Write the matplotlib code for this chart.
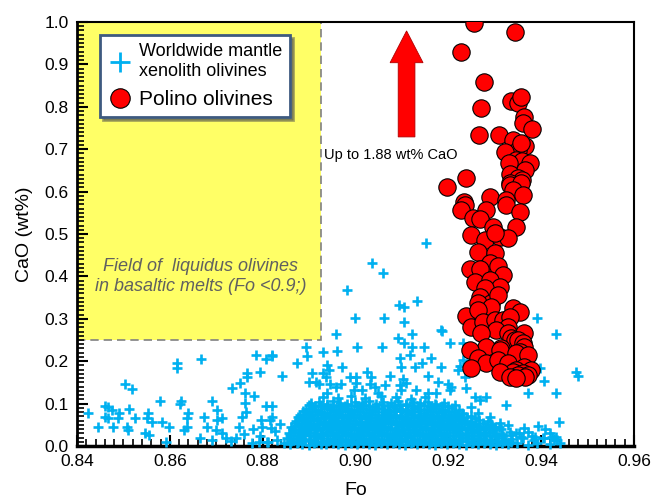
import matplotlib.pyplot as plt
import matplotlib.patches as mpatches
from matplotlib.lines import Line2D
from matplotlib.ticker import MultipleLocator, FormatStrFormatter

plt.rcParams['font.family'] = ['Liberation Sans', 'DejaVu Sans']

# ======================
# 1. Data (Fo, CaO wt%)
# ======================
# Polino olivines
polino_points = [
    (0.9255, 0.998), (0.9343, 0.976), (0.9227, 0.929), (0.9276, 0.858),
    (0.9270, 0.797), (0.9266, 0.733), (0.9309, 0.733), (0.9197, 0.611),
    (0.9238, 0.632), (0.9336, 0.814), (0.9349, 0.809), (0.9356, 0.823),
    (0.9362, 0.776), (0.9360, 0.762), (0.9381, 0.748), (0.9339, 0.722),
    (0.9366, 0.708), (0.9349, 0.698), (0.9321, 0.693), (0.9356, 0.715),
    (0.9345, 0.675), (0.9358, 0.672), (0.9375, 0.667), (0.9330, 0.667),
    (0.9366, 0.651), (0.9332, 0.642), (0.9349, 0.632), (0.9358, 0.627),
    (0.9332, 0.620), (0.9332, 0.616), (0.9356, 0.620), (0.9339, 0.604),
    (0.9360, 0.592), (0.9289, 0.587), (0.9324, 0.580), (0.9234, 0.575),
    (0.9236, 0.568), (0.9227, 0.557), (0.9324, 0.568), (0.9354, 0.552),
    (0.9281, 0.557), (0.9253, 0.538), (0.9268, 0.535), (0.9296, 0.517),
    (0.9345, 0.517), (0.9249, 0.498), (0.9279, 0.486), (0.9311, 0.493),
    (0.9328, 0.491), (0.9300, 0.502), (0.9264, 0.458), (0.9300, 0.455),
    (0.9289, 0.432), (0.9246, 0.417), (0.9268, 0.417), (0.9306, 0.425),
    (0.9317, 0.403), (0.9257, 0.387), (0.9289, 0.392), (0.9311, 0.375),
    (0.9279, 0.373), (0.9268, 0.351), (0.9291, 0.337), (0.9306, 0.356),
    (0.9264, 0.337), (0.9291, 0.328), (0.9339, 0.325), (0.9354, 0.316),
    (0.9238, 0.307), (0.9264, 0.321), (0.9249, 0.281), (0.9274, 0.292),
    (0.9300, 0.297), (0.9317, 0.297), (0.9332, 0.304), (0.9328, 0.281),
    (0.9302, 0.274), (0.9270, 0.267), (0.9328, 0.267), (0.9364, 0.267),
    (0.9334, 0.255), (0.9343, 0.250), (0.9349, 0.250), (0.9360, 0.243),
    (0.9313, 0.231), (0.9281, 0.233), (0.9364, 0.233), (0.9246, 0.226),
    (0.9311, 0.226), (0.9354, 0.222), (0.9264, 0.208), (0.9345, 0.219),
    (0.9371, 0.215), (0.9281, 0.196), (0.9306, 0.203), (0.9328, 0.196),
    (0.9249, 0.184), (0.9364, 0.186), (0.9377, 0.179), (0.9345, 0.179),
    (0.9339, 0.175), (0.9311, 0.175), (0.9360, 0.172), (0.9349, 0.167),
    (0.9371, 0.167), (0.9332, 0.163), (0.9366, 0.163), (0.9345, 0.160),
]

# Worldwide mantle xenolith olivines - scattered points
xeno_sparse = [
    (0.8424, 0.078), (0.8445, 0.045), (0.8460, 0.094), (0.8466, 0.092),
    (0.8475, 0.085), (0.8460, 0.068), (0.8466, 0.066), (0.8477, 0.045),
    (0.8490, 0.078), (0.8488, 0.066), (0.8503, 0.146), (0.8518, 0.134),
    (0.8511, 0.087), (0.8507, 0.045), (0.8509, 0.038), (0.8524, 0.066),
    (0.8546, 0.031), (0.8556, 0.026), (0.8552, 0.078), (0.8550, 0.066),
    (0.8561, 0.057), (0.8578, 0.106), (0.8584, 0.057), (0.8599, 0.045),
    (0.8591, 0.009), (0.8616, 0.196), (0.8616, 0.184), (0.8621, 0.099),
    (0.8625, 0.106), (0.8636, 0.066), (0.8636, 0.045), (0.8631, 0.038),
    (0.8640, 0.078), (0.8664, 0.019), (0.8668, 0.205), (0.8674, 0.068),
    (0.8679, 0.045), (0.8691, 0.106), (0.8702, 0.085), (0.8702, 0.061),
    (0.8700, 0.038), (0.8713, 0.066), (0.8721, 0.019), (0.8734, 0.137),
    (0.8751, 0.149), (0.8762, 0.125), (0.8781, 0.118), (0.8766, 0.172),
    (0.8766, 0.163), (0.8794, 0.175), (0.8786, 0.215), (0.8807, 0.205),
    (0.8820, 0.215), (0.8762, 0.101), (0.8764, 0.080), (0.8756, 0.068),
    (0.8749, 0.045), (0.8743, 0.019), (0.8796, 0.061), (0.8799, 0.045),
    (0.8807, 0.094), (0.8820, 0.094), (0.8820, 0.068), (0.8818, 0.042),
    (0.8792, 0.009), (0.8809, 0.009), (0.8893, 0.233), (0.8895, 0.212),
    (0.8874, 0.196), (0.8931, 0.222), (0.8841, 0.165), (0.8906, 0.172),
    (0.8914, 0.151), (0.8899, 0.151), (0.8936, 0.163), (0.9152, 0.479),
    (0.9036, 0.432), (0.9060, 0.408), (0.8981, 0.368), (0.9094, 0.333),
    (0.9105, 0.328), (0.9133, 0.342), (0.8998, 0.302), (0.9062, 0.302),
    (0.9105, 0.292), (0.9184, 0.274), (0.8957, 0.264), (0.9122, 0.264),
    (0.9092, 0.255), (0.9105, 0.243), (0.9204, 0.243), (0.9231, 0.243),
    (0.8961, 0.224), (0.9004, 0.233), (0.9056, 0.233), (0.9122, 0.233),
    (0.9148, 0.233), (0.8820, 0.212), (0.9096, 0.208), (0.9118, 0.215),
    (0.9163, 0.208), (0.9144, 0.196), (0.8938, 0.191), (0.8942, 0.179),
    (0.8970, 0.186), (0.9024, 0.175), (0.9099, 0.186), (0.9129, 0.186),
    (0.9184, 0.186), (0.9225, 0.189), (0.9157, 0.165), (0.9075, 0.165),
    (0.9002, 0.163), (0.8989, 0.163), (0.8931, 0.172), (0.9103, 0.158),
    (0.9109, 0.149), (0.8921, 0.146), (0.8944, 0.146), (0.8968, 0.146),
    (0.9000, 0.149), (0.9034, 0.163), (0.9032, 0.146), (0.9064, 0.144),
    (0.9178, 0.151), (0.9199, 0.146), (0.9204, 0.132), (0.9157, 0.125),
    (0.9174, 0.125), (0.9131, 0.132), (0.9096, 0.144), (0.9099, 0.132),
    (0.9043, 0.139), (0.8938, 0.125), (0.8957, 0.139), (0.8996, 0.132),
    (0.9013, 0.132), (0.9049, 0.125), (0.9390, 0.302), (0.9433, 0.264),
    (0.9397, 0.184), (0.9407, 0.153), (0.9371, 0.125), (0.9431, 0.125),
    (0.9476, 0.175), (0.9480, 0.165), (0.9324, 0.097), (0.9439, 0.057),
    (0.9394, 0.047), (0.9409, 0.040), (0.9420, 0.031), (0.9431, 0.021),
    (0.9371, 0.033), (0.9381, 0.024), (0.9186, 0.271), (0.9231, 0.203),
    (0.9221, 0.179), (0.9236, 0.163), (0.9364, 0.042), (0.9345, 0.031),
    (0.9328, 0.050), (0.9356, 0.021), (0.9386, 0.021), (0.9407, 0.019),
    (0.9424, 0.021), (0.9435, 0.014), (0.9206, 0.139), (0.9238, 0.137),
    (0.9257, 0.116), (0.9281, 0.116), (0.9268, 0.108), (0.9249, 0.092),
    (0.9264, 0.078), (0.9289, 0.068), (0.9311, 0.054), (0.9300, 0.045),
    (0.8778, 0.006), (0.8795, 0.024), (0.8812, 0.010), (0.8826, 0.035),
    (0.8838, 0.052), (0.8830, 0.015), (0.8815, 0.062), (0.8780, 0.040),
    (0.8760, 0.028), (0.8732, 0.012), (0.8712, 0.030), (0.8690, 0.015),
]

# Worldwide mantle xenolith olivines - dense cluster
xeno_core = [
    (0.8846, 0.006), (0.8859, 0.004), (0.8873, 0.007), (0.8885, 0.005), (0.8899, 0.003),
    (0.8911, 0.007), (0.8925, 0.005), (0.8937, 0.004), (0.8951, 0.008), (0.8963, 0.005),
    (0.8977, 0.003), (0.8990, 0.006), (0.9003, 0.004), (0.9016, 0.007), (0.9029, 0.005),
    (0.9042, 0.003), (0.9055, 0.006), (0.9068, 0.004), (0.9081, 0.007), (0.9094, 0.005),
    (0.9107, 0.003), (0.9120, 0.006), (0.9133, 0.004), (0.9146, 0.007), (0.9159, 0.005),
    (0.9172, 0.003), (0.9185, 0.006), (0.9198, 0.004), (0.9211, 0.007), (0.9224, 0.005),
    (0.9237, 0.003), (0.9250, 0.006), (0.9263, 0.004), (0.9276, 0.007), (0.9289, 0.005),
    (0.9302, 0.003), (0.9315, 0.006), (0.9328, 0.004), (0.9348, 0.006), (0.9371, 0.003),
    (0.9392, 0.007), (0.9418, 0.004), (0.9441, 0.006),
    (0.8852, 0.019), (0.8866, 0.016), (0.8879, 0.020), (0.8892, 0.017), (0.8905, 0.015),
    (0.8918, 0.020), (0.8931, 0.018), (0.8944, 0.016), (0.8957, 0.021), (0.8970, 0.017),
    (0.8983, 0.015), (0.8996, 0.019), (0.9009, 0.018), (0.9022, 0.016), (0.9035, 0.020),
    (0.9048, 0.017), (0.9061, 0.015), (0.9074, 0.019), (0.9087, 0.018), (0.9100, 0.016),
    (0.9113, 0.021), (0.9126, 0.017), (0.9139, 0.015), (0.9152, 0.019), (0.9165, 0.018),
    (0.9178, 0.016), (0.9191, 0.020), (0.9204, 0.017), (0.9217, 0.015), (0.9230, 0.019),
    (0.9243, 0.018), (0.9256, 0.016), (0.9269, 0.020), (0.9282, 0.017), (0.9295, 0.015),
    (0.9308, 0.019), (0.9321, 0.017), (0.9338, 0.016), (0.9360, 0.019), (0.9384, 0.015),
    (0.9405, 0.018), (0.9428, 0.016),
    (0.8856, 0.031), (0.8869, 0.034), (0.8883, 0.030), (0.8896, 0.033), (0.8910, 0.031),
    (0.8923, 0.029), (0.8936, 0.034), (0.8949, 0.032), (0.8962, 0.030), (0.8975, 0.033),
    (0.8988, 0.031), (0.9001, 0.029), (0.9014, 0.034), (0.9027, 0.032), (0.9040, 0.030),
    (0.9053, 0.033), (0.9066, 0.031), (0.9079, 0.029), (0.9092, 0.034), (0.9105, 0.032),
    (0.9118, 0.030), (0.9131, 0.033), (0.9144, 0.031), (0.9157, 0.029), (0.9170, 0.034),
    (0.9183, 0.032), (0.9196, 0.030), (0.9209, 0.033), (0.9222, 0.031), (0.9235, 0.029),
    (0.9248, 0.034), (0.9261, 0.032), (0.9274, 0.030), (0.9287, 0.033), (0.9300, 0.031),
    (0.9315, 0.029), (0.9332, 0.033), (0.9352, 0.030),
    (0.8862, 0.045), (0.8876, 0.048), (0.8889, 0.044), (0.8902, 0.047), (0.8915, 0.045),
    (0.8928, 0.043), (0.8941, 0.048), (0.8954, 0.046), (0.8967, 0.044), (0.8980, 0.047),
    (0.8993, 0.045), (0.9006, 0.043), (0.9019, 0.048), (0.9032, 0.046), (0.9045, 0.044),
    (0.9058, 0.047), (0.9071, 0.045), (0.9084, 0.043), (0.9097, 0.048), (0.9110, 0.046),
    (0.9123, 0.044), (0.9136, 0.047), (0.9149, 0.045), (0.9162, 0.043), (0.9175, 0.048),
    (0.9188, 0.046), (0.9201, 0.044), (0.9214, 0.047), (0.9227, 0.045), (0.9240, 0.043),
    (0.9253, 0.048), (0.9266, 0.046), (0.9279, 0.044), (0.9294, 0.047), (0.9310, 0.044),
    (0.8872, 0.059), (0.8885, 0.062), (0.8898, 0.058), (0.8911, 0.061), (0.8924, 0.059),
    (0.8937, 0.057), (0.8950, 0.062), (0.8963, 0.060), (0.8976, 0.058), (0.8989, 0.061),
    (0.9002, 0.059), (0.9015, 0.057), (0.9028, 0.062), (0.9041, 0.060), (0.9054, 0.058),
    (0.9067, 0.061), (0.9080, 0.059), (0.9093, 0.057), (0.9106, 0.062), (0.9119, 0.060),
    (0.9132, 0.058), (0.9145, 0.061), (0.9158, 0.059), (0.9171, 0.057), (0.9184, 0.062),
    (0.9197, 0.060), (0.9210, 0.058), (0.9223, 0.061), (0.9236, 0.059), (0.9250, 0.057),
    (0.9266, 0.061), (0.9285, 0.058),
    (0.8880, 0.073), (0.8893, 0.076), (0.8906, 0.072), (0.8919, 0.075), (0.8932, 0.073),
    (0.8945, 0.071), (0.8958, 0.076), (0.8971, 0.074), (0.8984, 0.072), (0.8997, 0.075),
    (0.9010, 0.073), (0.9023, 0.071), (0.9036, 0.076), (0.9049, 0.074), (0.9062, 0.072),
    (0.9075, 0.075), (0.9088, 0.073), (0.9101, 0.071), (0.9114, 0.076), (0.9127, 0.074),
    (0.9140, 0.072), (0.9153, 0.075), (0.9166, 0.073), (0.9179, 0.071), (0.9192, 0.076),
    (0.9205, 0.074), (0.9218, 0.072), (0.9232, 0.075), (0.9248, 0.071),
    (0.8893, 0.087), (0.8906, 0.090), (0.8919, 0.086), (0.8932, 0.089), (0.8945, 0.087),
    (0.8958, 0.085), (0.8971, 0.090), (0.8984, 0.088), (0.8997, 0.086), (0.9010, 0.089),
    (0.9023, 0.087), (0.9036, 0.085), (0.9049, 0.090), (0.9062, 0.088), (0.9075, 0.086),
    (0.9088, 0.089), (0.9101, 0.087), (0.9114, 0.085), (0.9127, 0.090), (0.9140, 0.088),
    (0.9153, 0.086), (0.9166, 0.089), (0.9179, 0.087), (0.9192, 0.085), (0.9207, 0.089),
    (0.9224, 0.086),
    (0.8905, 0.101), (0.8922, 0.104), (0.8938, 0.100), (0.8951, 0.105), (0.8967, 0.102),
    (0.8982, 0.099), (0.8999, 0.104), (0.9013, 0.101), (0.9030, 0.106), (0.9044, 0.100),
    (0.9060, 0.103), (0.9077, 0.101), (0.9091, 0.105), (0.9108, 0.099), (0.9124, 0.103),
    (0.9139, 0.101), (0.9156, 0.104), (0.9172, 0.100), (0.9190, 0.102),
    (0.8930, 0.116), (0.8962, 0.114), (0.8990, 0.118), (0.9021, 0.113), (0.9055, 0.117),
    (0.9088, 0.115), (0.9120, 0.112), (0.9150, 0.116),
]

# points between the rows of the dense cluster
xeno_core_fill = [
    (0.8862, 0.012), (0.8876, 0.010), (0.8889, 0.013), (0.8902, 0.011), (0.8915, 0.009),
    (0.8928, 0.012), (0.8941, 0.011), (0.8954, 0.013), (0.8967, 0.010), (0.8980, 0.012),
    (0.8993, 0.011), (0.9006, 0.009), (0.9019, 0.013), (0.9032, 0.011), (0.9045, 0.010),
    (0.9058, 0.012), (0.9071, 0.013), (0.9084, 0.010), (0.9097, 0.011), (0.9110, 0.012),
    (0.9123, 0.009), (0.9136, 0.013), (0.9149, 0.011), (0.9162, 0.010), (0.9175, 0.012),
    (0.9188, 0.011), (0.9201, 0.013), (0.9214, 0.010), (0.9227, 0.012), (0.9240, 0.011),
    (0.9253, 0.009), (0.9266, 0.013), (0.9279, 0.011), (0.9292, 0.010), (0.9305, 0.012),
    (0.9320, 0.011), (0.9336, 0.009),
    (0.8859, 0.026), (0.8873, 0.024), (0.8886, 0.027), (0.8899, 0.025), (0.8912, 0.023),
    (0.8925, 0.026), (0.8938, 0.025), (0.8951, 0.027), (0.8964, 0.024), (0.8977, 0.026),
    (0.8990, 0.025), (0.9003, 0.023), (0.9016, 0.027), (0.9029, 0.025), (0.9042, 0.024),
    (0.9055, 0.026), (0.9068, 0.027), (0.9081, 0.024), (0.9094, 0.025), (0.9107, 0.026),
    (0.9120, 0.023), (0.9133, 0.027), (0.9146, 0.025), (0.9159, 0.024), (0.9172, 0.026),
    (0.9185, 0.025), (0.9198, 0.027), (0.9211, 0.024), (0.9224, 0.026), (0.9237, 0.025),
    (0.9250, 0.023), (0.9263, 0.027), (0.9276, 0.025), (0.9289, 0.024), (0.9302, 0.026),
    (0.9318, 0.024), (0.9334, 0.026),
    (0.8866, 0.040), (0.8879, 0.038), (0.8892, 0.041), (0.8905, 0.039), (0.8918, 0.037),
    (0.8931, 0.040), (0.8944, 0.039), (0.8957, 0.041), (0.8970, 0.038), (0.8983, 0.040),
    (0.8996, 0.039), (0.9009, 0.037), (0.9022, 0.041), (0.9035, 0.039), (0.9048, 0.038),
    (0.9061, 0.040), (0.9074, 0.041), (0.9087, 0.038), (0.9100, 0.039), (0.9113, 0.040),
    (0.9126, 0.037), (0.9139, 0.041), (0.9152, 0.039), (0.9165, 0.038), (0.9178, 0.040),
    (0.9191, 0.039), (0.9204, 0.041), (0.9217, 0.038), (0.9230, 0.040), (0.9243, 0.039),
    (0.9256, 0.037), (0.9269, 0.041), (0.9282, 0.039), (0.9297, 0.038), (0.9314, 0.040),
    (0.8869, 0.054), (0.8882, 0.052), (0.8895, 0.055), (0.8908, 0.053), (0.8921, 0.051),
    (0.8934, 0.054), (0.8947, 0.053), (0.8960, 0.055), (0.8973, 0.052), (0.8986, 0.054),
    (0.8999, 0.053), (0.9012, 0.051), (0.9025, 0.055), (0.9038, 0.053), (0.9051, 0.052),
    (0.9064, 0.054), (0.9077, 0.055), (0.9090, 0.052), (0.9103, 0.053), (0.9116, 0.054),
    (0.9129, 0.051), (0.9142, 0.055), (0.9155, 0.053), (0.9168, 0.052), (0.9181, 0.054),
    (0.9194, 0.053), (0.9207, 0.055), (0.9220, 0.052), (0.9233, 0.054), (0.9246, 0.053),
    (0.9259, 0.051), (0.9274, 0.054), (0.9292, 0.052),
    (0.8877, 0.068), (0.8890, 0.066), (0.8903, 0.069), (0.8916, 0.067), (0.8929, 0.065),
    (0.8942, 0.068), (0.8955, 0.067), (0.8968, 0.069), (0.8981, 0.066), (0.8994, 0.068),
    (0.9007, 0.067), (0.9020, 0.065), (0.9033, 0.069), (0.9046, 0.067), (0.9059, 0.066),
    (0.9072, 0.068), (0.9085, 0.069), (0.9098, 0.066), (0.9111, 0.067), (0.9124, 0.068),
    (0.9137, 0.065), (0.9150, 0.069), (0.9163, 0.067), (0.9176, 0.066), (0.9189, 0.068),
    (0.9202, 0.067), (0.9215, 0.069), (0.9228, 0.066), (0.9241, 0.068), (0.9258, 0.066),
    (0.8887, 0.082), (0.8900, 0.080), (0.8913, 0.083), (0.8926, 0.081), (0.8939, 0.079),
    (0.8952, 0.082), (0.8965, 0.081), (0.8978, 0.083), (0.8991, 0.080), (0.9004, 0.082),
    (0.9017, 0.081), (0.9030, 0.079), (0.9043, 0.083), (0.9056, 0.081), (0.9069, 0.080),
    (0.9082, 0.082), (0.9095, 0.083), (0.9108, 0.080), (0.9121, 0.081), (0.9134, 0.082),
    (0.9147, 0.079), (0.9160, 0.083), (0.9173, 0.081), (0.9186, 0.080), (0.9199, 0.082),
    (0.9213, 0.081), (0.9230, 0.079),
    (0.8900, 0.096), (0.8913, 0.094), (0.8926, 0.097), (0.8939, 0.095), (0.8952, 0.093),
    (0.8965, 0.096), (0.8978, 0.095), (0.8991, 0.097), (0.9004, 0.094), (0.9017, 0.096),
    (0.9030, 0.095), (0.9043, 0.093), (0.9056, 0.097), (0.9069, 0.095), (0.9082, 0.094),
    (0.9095, 0.096), (0.9108, 0.097), (0.9121, 0.094), (0.9134, 0.095), (0.9147, 0.096),
    (0.9160, 0.093), (0.9173, 0.097), (0.9186, 0.095), (0.9200, 0.094), (0.9215, 0.096),
]

x_ticks = [0.84, 0.86, 0.88, 0.90, 0.92, 0.94, 0.96]
y_ticks = [0.0, 0.1, 0.2, 0.3, 0.4, 0.5, 0.6, 0.7, 0.8, 0.9, 1.0]

# liquidus olivine field (Fo < ~0.89, CaO > 0.25)
field_fo = (0.84, 0.8925)
field_cao = (0.25, 1.0)

# arrow: values go up to 1.88 wt% CaO
arrow_fo = 0.911
arrow_cao = (0.729, 0.979)

XENO_BLUE = "#00b0f0"

# ======================
# 2. Figure
# ======================
fig = plt.figure(figsize=(6.51, 5.0), dpi=100)
ax = fig.add_axes([0.1183, 0.108, 0.8556, 0.848])

field = mpatches.Rectangle((field_fo[0], field_cao[0]),
                           field_fo[1] - field_fo[0], field_cao[1] - field_cao[0],
                           facecolor="#ffff66", edgecolor="#808080",
                           linestyle=(0, (5, 3)), linewidth=1.2, zorder=1)
ax.add_patch(field)

ax.text(sum(field_fo) / 2 + 0.0004, 0.400,
        "Field of  liquidus olivines\nin basaltic melts (Fo <0.9;)",
        ha="center", va="center", style="italic", color="#606060",
        fontsize=13, linespacing=1.25, zorder=2)

xeno_all = xeno_core + xeno_core_fill + xeno_sparse
xf, xc = zip(*xeno_all)
ax.plot(xf, xc, "+", color=XENO_BLUE, ms=7.5, mew=1.9, ls="none",
        zorder=3, clip_on=False)

pf, pc = zip(*polino_points)
ax.plot(pf, pc, "o", mfc="#ff0000", mec="black", mew=0.8, ms=12.5,
        ls="none", zorder=4)

arrow = mpatches.FancyArrow(arrow_fo, arrow_cao[0], 0, arrow_cao[1] - arrow_cao[0],
                            width=0.0036, head_width=0.0071, head_length=0.075,
                            length_includes_head=True, facecolor="#ff0000",
                            edgecolor="#b00000", linewidth=0.6, zorder=5)
ax.add_patch(arrow)
ax.text(0.8932, 0.686, "Up to 1.88 wt% CaO", fontsize=10.5,
        ha="left", va="center", zorder=5)

# ======================
# 3. Axes styling
# ======================
ax.set_xlim(0.84, 0.96)
ax.set_ylim(0.0, 1.0)
ax.set_xticks(x_ticks)
ax.set_yticks(y_ticks)
ax.xaxis.set_major_formatter(FormatStrFormatter("%.2f"))
ax.yaxis.set_major_formatter(FormatStrFormatter("%.1f"))
ax.xaxis.set_minor_locator(MultipleLocator(0.002))
ax.yaxis.set_minor_locator(MultipleLocator(0.01))
ax.tick_params(which="both", direction="in", top=False, right=False,
               labelsize=12.5, colors="black")
ax.tick_params(which="major", length=8, width=1.5, pad=6)
ax.tick_params(which="minor", length=5, width=1.2)

ax.spines["left"].set_linewidth(2.0)
ax.spines["bottom"].set_linewidth(2.5)
ax.spines["top"].set_linewidth(1.5)
ax.spines["right"].set_linewidth(1.5)

ax.set_xlabel("Fo", fontsize=14, labelpad=9)
ax.set_ylabel("CaO (wt%)", fontsize=14, labelpad=8)

# legend
h_xeno = Line2D([], [], marker="+", color=XENO_BLUE, ms=15, mew=2.0, ls="none",
                label="Worldwide mantle\nxenolith olivines")
h_pol = Line2D([], [], marker="o", mfc="#ff0000", mec="black", mew=0.8, ms=14,
               ls="none", label="Polino olivines")
leg = ax.legend(handles=[h_xeno, h_pol], loc="upper left",
                bbox_to_anchor=(0.041, 0.969), fancybox=False, shadow=True,
                framealpha=1, edgecolor="#3d5a80", fontsize=13,
                borderpad=0.45, handletextpad=0.4, labelspacing=0.55,
                handlelength=1.3, borderaxespad=0)
leg.get_frame().set_linewidth(2.0)
leg.get_texts()[1].set_fontsize(15)
leg.set_zorder(10)

fig.savefig("out.png", dpi=100)
